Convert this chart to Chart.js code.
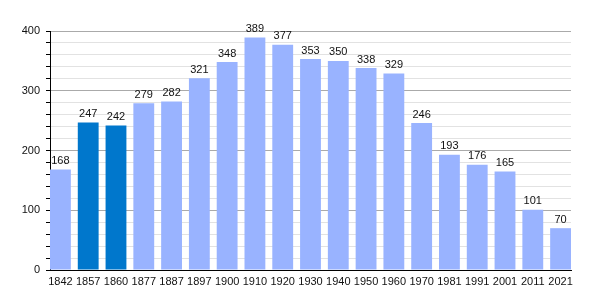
<!DOCTYPE html>
<html><head><meta charset="utf-8">
<script src="https://cdn.jsdelivr.net/npm/chart.js@4/dist/chart.umd.min.js"></script>
<style>html,body{margin:0;padding:0;background:#fff}#w{width:600px;height:300px}</style>
</head><body><div id="w"><canvas id="c"></canvas></div>
<script>
const years = ["1842","1857","1860","1877","1887","1897","1900","1910","1920","1930","1940","1950","1960","1970","1981","1991","2001","2011","2021"];
const population = [168,247,242,279,282,321,348,389,377,353,350,338,329,246,193,176,165,101,70];
const highlighted = ["1857","1860"];
const yTicks = [0,100,200,300,400];

const lightColor = "#99b3ff", darkColor = "#0077cc";
const FONT = "'Liberation Sans', Arial, sans-serif";

const labelPlugin = {
  id: "vals",
  afterDatasetsDraw(chart) {
    const ctx = chart.ctx;
    const meta = chart.getDatasetMeta(0);
    ctx.save();
    ctx.font = "11px " + FONT;
    ctx.fillStyle = "#111";
    ctx.textAlign = "center";
    ctx.textBaseline = "bottom";
    meta.data.forEach((bar, i) => {
      ctx.fillText(String(population[i]), bar.x, bar.y - 3);
    });
    ctx.restore();
  }
};

const points = years.map((y, i) => ({ x: i, y: population[i] }));
const half = 0.375;

new Chart(document.getElementById("c"), {
  type: "bar",
  data: {
    datasets: [{
      data: points,
      backgroundColor: years.map(y => highlighted.includes(y) ? darkColor : lightColor),
      barPercentage: 0.75,
      categoryPercentage: 1.0
    }]
  },
  options: {
    responsive: true,
    maintainAspectRatio: false,
    animation: false,
    layout: { padding: { top: 31, right: 29, bottom: 0, left: 0 } },
    plugins: { legend: { display: false }, tooltip: { enabled: false } },
    scales: {
      x: {
        type: "linear",
        min: -half, max: years.length - 1 + half,
        offset: false,
        grid: { display: false, drawTicks: false },
        border: { color: "#000", width: 1 },
        ticks: {
          stepSize: 1, includeBounds: false, autoSkip: false, maxRotation: 0,
          color: "#111", font: { family: FONT, size: 11 }, padding: 5,
          callback: v => Number.isInteger(v) && years[v] ? years[v] : ""
        },
        afterFit(s) { s.height = 30; }
      },
      y: {
        min: 0, max: 400,
        ticks: {
          stepSize: 20,
          autoSkip: false,
          color: "#111",
          font: { family: FONT, size: 11 },
          padding: 6,
          callback: v => yTicks.includes(v) ? String(v) : ""
        },
        grid: {
          color: c => (c.tick && c.tick.value % 100 === 0) ? "#aaa" : "#e2e2e2",
          tickColor: "#000",
          tickLength: 4,
          drawTicks: true
        },
        border: { color: "#000", width: 1 },
        afterFit(s) { s.width = 50; }
      }
    }
  },
  plugins: [labelPlugin]
});
</script>
</body></html>
